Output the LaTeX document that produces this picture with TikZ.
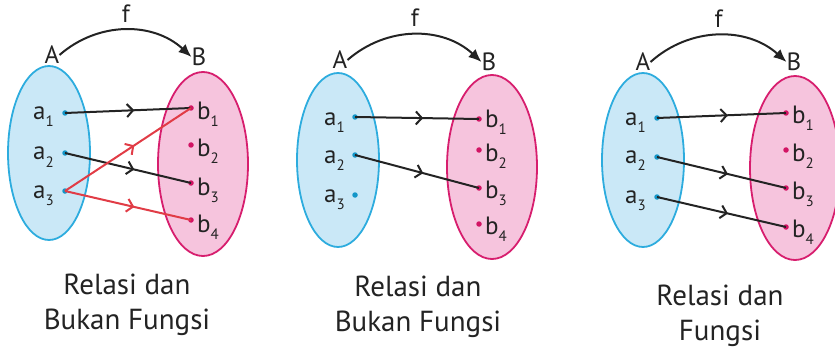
\documentclass[tikz,border=0pt]{standalone}
\usepackage{fontspec}
\setmainfont{PT Sans}
\usetikzlibrary{shapes.geometric,arrows.meta,decorations.markings}
\definecolor{blueFill}{RGB}{202,232,247}
\definecolor{blueLine}{RGB}{45,172,222}
\definecolor{pinkFill}{RGB}{246,196,221}
\definecolor{pinkLine}{RGB}{215,30,110}
\definecolor{dotA}{RGB}{20,150,200}
\definecolor{dotB}{RGB}{210,20,100}
\definecolor{redline}{RGB}{225,60,70}
\definecolor{ink}{RGB}{35,35,35}
\newcommand\lbl[2]{#1\raisebox{-7pt}{\fontsize{15}{15}\selectfont #2}}
\tikzset{
  setA/.style={ellipse, draw=blueLine, fill=blueFill, line width=1.8pt, minimum width=82, minimum height=174, inner sep=0},
  setB/.style={ellipse, draw=pinkLine, fill=pinkFill, line width=1.8pt, minimum width=90, minimum height=184, inner sep=0},
  dota/.style={circle, fill=dotA, inner sep=0, minimum size=5.5},
  dotb/.style={circle, fill=dotB, inner sep=0, minimum size=5.5},
  txt/.style={font=\fontsize{25}{28}\selectfont, text=ink, inner sep=0},
  labA/.style={txt, anchor=base east},
  labB/.style={txt, anchor=base west},
  captext/.style={font=\fontsize{29}{35}\selectfont, text=ink, align=center, inner sep=0},
  farrow/.style={line width=2pt, draw=ink, -{Latex[length=13pt,width=11pt]}, bend left=42},
  maparrow/.style={line width=2pt, decoration={markings, mark=at position 0.55 with {\arrow{Straight Barb[length=6pt,width=13pt,line width=2pt]}}}, postaction={decorate}},
  blk/.style={maparrow, draw=ink},
  rd/.style={maparrow, draw=redline},
}
\begin{document}
\begin{tikzpicture}[x=1pt,y=-1pt]
\useasboundingbox (0,0) rectangle (835,350);
% ---------------- Panel 1 ----------------
\node[setA] (EA1) at (49,153) {};
\node[setB] (EB1) at (203,164) {};
\node[txt] (A1) at (52,55) {A};
\node[txt] (B1) at (199,57) {B};
\draw[farrow] (A1.east) to node[txt, above=7pt] (f1) {f} (B1.west);
\node[dota] (a11) at (65,113) {};
\node[dota] (a12) at (65,153) {};
\node[dota] (a13) at (65,191) {};
\node[dotb] (b11) at (191,108) {};
\node[dotb] (b12) at (191,145) {};
\node[dotb] (b13) at (191,183) {};
\node[dotb] (b14) at (191,220) {};
\node[labA] (la11) at (54,120) {\lbl{a}{1}};
\node[labA] (la12) at (54,160) {\lbl{a}{2}};
\node[labA] (la13) at (54,198) {\lbl{a}{3}};
\node[labB] (lb11) at (197,120) {\lbl{b}{1}};
\node[labB] (lb12) at (197,157) {\lbl{b}{2}};
\node[labB] (lb13) at (197,195) {\lbl{b}{3}};
\node[labB] (lb14) at (197,232) {\lbl{b}{4}};
\draw[blk] (a11.center) -- (b11.center);
\draw[blk] (a12.center) -- (b13.center);
\draw[rd] (a13.center) -- (b11.center);
\draw[rd] (a13.center) -- (b14.center);
\node[captext] (c1) at (127,305) {Relasi dan\\Bukan Fungsi};
% ---------------- Panel 2 ----------------
\node[setA] (EA2) at (338,160) {};
\node[setB] (EB2) at (492,167) {};
\node[txt] (A2) at (340,60) {A};
\node[txt] (B2) at (489,62) {B};
\draw[farrow] (A2.east) to node[txt, above=7pt] (f2) {f} (B2.west);
\node[dota] (a21) at (355,117) {};
\node[dota] (a22) at (355,155) {};
\node[dota] (a23) at (355,195) {};
\node[dotb] (b21) at (479,119) {};
\node[dotb] (b22) at (479,150) {};
\node[dotb] (b23) at (479,188) {};
\node[dotb] (b24) at (479,224) {};
\node[labA] (la21) at (345,125) {\lbl{a}{1}};
\node[labA] (la22) at (345,163) {\lbl{a}{2}};
\node[labA] (la23) at (345,202) {\lbl{a}{3}};
\node[labB] (lb21) at (485,128) {\lbl{b}{1}};
\node[labB] (lb22) at (485,161) {\lbl{b}{2}};
\node[labB] (lb23) at (485,198) {\lbl{b}{3}};
\node[labB] (lb24) at (485,234) {\lbl{b}{4}};
\draw[blk] (a21.center) -- (b21.center);
\draw[blk] (a22.center) -- (b23.center);
\node[captext] (c2) at (418,307) {Relasi dan\\Bukan Fungsi};
% ---------------- Panel 3 ----------------
\node[setA] (EA3) at (643,160) {};
\node[setB] (EB3) at (795,168) {};
\node[txt] (A3) at (643,62) {A};
\node[txt] (B3) at (794,62) {B};
\draw[farrow] (A3.east) to node[txt, above=7pt] (f3) {f} (B3.west);
\node[dota] (a31) at (657,118) {};
\node[dota] (a32) at (657,157) {};
\node[dota] (a33) at (657,197) {};
\node[dotb] (b31) at (786,113) {};
\node[dotb] (b32) at (786,150) {};
\node[dotb] (b33) at (786,188) {};
\node[dotb] (b34) at (786,227) {};
\node[labA] (la31) at (646,126) {\lbl{a}{1}};
\node[labA] (la32) at (646,164) {\lbl{a}{2}};
\node[labA] (la33) at (646,203) {\lbl{a}{3}};
\node[labB] (lb31) at (792,124) {\lbl{b}{1}};
\node[labB] (lb32) at (792,161) {\lbl{b}{2}};
\node[labB] (lb33) at (792,199) {\lbl{b}{3}};
\node[labB] (lb34) at (792,237) {\lbl{b}{4}};
\draw[blk] (a31.center) -- (b31.center);
\draw[blk] (a32.center) -- (b33.center);
\draw[blk] (a33.center) -- (b34.center);
\node[captext] (c3) at (720,316) {Relasi dan\\Fungsi};
\end{tikzpicture}
\end{document}
